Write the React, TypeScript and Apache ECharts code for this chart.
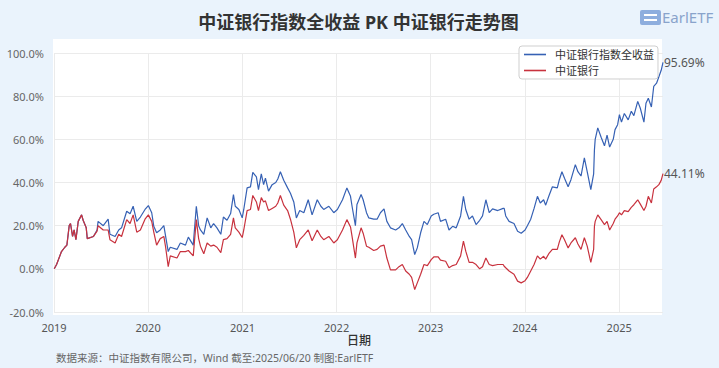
import React, { useEffect, useRef } from 'react';
import * as echarts from 'echarts';

const dates = [
  '2019-01-02','2019-01-11','2019-01-30','2019-02-12','2019-02-20','2019-03-01','2019-03-06','2019-03-14','2019-03-20','2019-03-27',
  '2019-04-05','2019-04-18','2019-04-24','2019-05-06','2019-05-10','2019-06-03','2019-06-17','2019-06-21','2019-07-11','2019-07-30',
  '2019-08-06','2019-08-26','2019-09-09','2019-09-20','2019-10-10','2019-10-23','2019-11-04','2019-11-18','2019-12-02','2019-12-20',
  '2020-01-02','2020-01-15','2020-01-23','2020-02-03','2020-02-17','2020-03-02','2020-03-09','2020-03-19','2020-03-27','2020-04-22',
  '2020-05-05','2020-05-25','2020-06-05','2020-06-24','2020-07-06','2020-07-15','2020-07-22','2020-08-04','2020-08-17','2020-08-31',
  '2020-09-11','2020-09-24','2020-10-09','2020-10-19','2020-11-02','2020-11-16','2020-11-27','2020-12-04','2020-12-18','2020-12-31',
  '2021-01-06','2021-01-19','2021-02-01','2021-02-10','2021-02-24','2021-03-04','2021-03-15','2021-03-24','2021-03-31','2021-04-12',
  '2021-04-26','2021-05-10','2021-05-18','2021-05-28','2021-06-10','2021-06-25','2021-07-06','2021-07-19','2021-07-29','2021-08-11',
  '2021-08-27','2021-09-13','2021-09-28','2021-10-18','2021-11-01','2021-11-12','2021-12-02','2021-12-21','2022-01-04','2022-01-24',
  '2022-02-10','2022-02-24','2022-03-02','2022-03-15','2022-03-21','2022-04-06','2022-04-14','2022-04-27','2022-05-06','2022-05-25',
  '2022-06-07','2022-06-20','2022-07-04','2022-07-15','2022-07-29','2022-08-18','2022-08-31','2022-09-13','2022-09-26','2022-10-10',
  '2022-10-19','2022-10-31','2022-11-10','2022-11-23','2022-12-06','2022-12-19','2023-01-03','2023-01-13','2023-01-30','2023-02-08',
  '2023-02-28','2023-03-13','2023-03-27','2023-04-10','2023-04-27','2023-05-08','2023-05-17','2023-05-30','2023-06-12','2023-06-26',
  '2023-07-10','2023-07-21','2023-08-03','2023-08-16','2023-08-29','2023-09-18','2023-10-09','2023-10-13','2023-10-19','2023-11-01',
  '2023-11-20','2023-12-04','2023-12-18','2024-01-02','2024-01-11','2024-01-24','2024-02-06','2024-02-19','2024-03-01','2024-03-14',
  '2024-03-22','2024-04-03','2024-04-17','2024-05-06','2024-05-14','2024-05-24','2024-06-03','2024-06-17','2024-06-28','2024-07-15',
  '2024-07-25','2024-08-06','2024-08-19','2024-08-30','2024-09-13','2024-09-24','2024-09-27','2024-09-30','2024-10-10','2024-10-23',
  '2024-11-05','2024-11-15','2024-11-25','2024-12-09','2024-12-16','2024-12-26','2025-01-02','2025-01-10','2025-01-21','2025-02-05',
  '2025-02-17','2025-02-27','2025-03-14','2025-03-24','2025-04-07','2025-04-15','2025-04-24','2025-05-06','2025-05-15','2025-05-26',
  '2025-06-04','2025-06-13','2025-06-20',
];

// 中证银行指数全收益 (%)
const totalReturn = [
  0, 2, 8, 10, 11, 20, 21, 15, 18, 13.5,
  22, 25, 22.5, 19, 14, 15, 18, 22, 20, 23,
  16, 15, 18, 19, 26.7, 25.5, 29, 22, 24, 27.5,
  29.3, 26, 19.7, 16.7, 18, 20, 15, 8, 10, 9,
  12, 11, 14.7, 11, 29, 20, 18, 16, 23.6, 19,
  21, 19, 16, 24, 22.5, 25.6, 34.4, 29, 27.5, 23.6,
  27.5, 37.5, 38, 44.7, 42.6, 36.7, 44, 39, 42, 36,
  39, 40, 41.6, 45, 41, 37.5, 35, 31, 23.6, 27,
  26, 32, 25, 32, 29, 27.5, 29, 26, 27.5, 32,
  37.5, 33.6, 29, 20, 29.8, 34.4, 32, 26, 23.6, 23,
  23, 26, 27.8, 22, 19, 18, 19, 21, 18, 15,
  13.5, 6.6, 9.7, 16.7, 22, 20.5, 24.5, 25.3, 26, 22,
  23, 18, 19.7, 19, 24.5, 33.6, 27.5, 23, 24.5, 20.5,
  22.5, 24.5, 32, 26, 27.8, 27, 28, 28, 24.5, 22,
  21, 17.4, 16.5, 18, 20, 23, 28, 33.6, 30.5, 32,
  29.5, 33.6, 38, 37.5, 41.3, 45, 42, 38, 41.3, 48.3,
  45, 43, 51.4, 45, 36.7, 44, 55, 60, 65.3, 61,
  57, 62, 56.4, 60, 64.5, 66.8, 71.4, 68, 72, 69,
  73, 71, 77.6, 74.4, 68, 76.7, 79, 75, 84.5, 86,
  89, 92, 95.69,
];

// 中证银行 (%)
const priceIndex = [
  0, 2, 8, 10, 11, 20, 21, 15, 18, 13.5,
  22, 25, 22.5, 19, 14, 15, 17.5, 20, 18, 18,
  13.5, 12, 16, 15, 22.8, 21, 25, 17, 18, 23,
  25, 22, 17, 11, 14, 15, 10, 1, 6, 5,
  8, 8, 8.5, 6, 22.8, 14, 10.5, 7, 12, 10.5,
  11, 10, 7.5, 13.5, 14, 16, 23.6, 19, 17, 14.5,
  18, 27, 27.5, 34, 31, 27, 33, 31, 31.5, 27,
  28, 29, 30.5, 34, 29.5, 27, 23, 17, 9.7, 13.5,
  15.5, 18, 13, 18, 15, 13.5, 15, 12, 13.5, 18,
  22.8, 19.4, 15, 5, 12, 19, 16.5, 10.5, 10, 8.5,
  9, 10.5, 11, 5, -0.5, -0.5, 1, 2, -1, -2.5,
  -4, -9.6, -6.5, -2.5, 2, 1.5, 4.3, 5.5, 5.5, 4,
  3.5, 0.5, 1.5, 2, 6, 12.8, 8.2, 3, 3, 2,
  0, 1, 5, 2, 1.5, 2, 2, 1.2, 0.5, -1,
  -2.5, -5.7, -6.5, -5.5, -4, -1, 2, 6, 4.5, 5.8,
  4.5, 7, 9, 9, 12.5, 15.8, 13.5, 9.7, 12, 14.4,
  11.5, 9, 14.4, 10.5, 3, 9, 19.7, 22, 25, 22.8,
  20.5, 22, 18, 21, 23, 24.5, 26, 25, 27, 26.5,
  28.5, 29.7, 32, 30, 27, 29, 33.6, 30.5, 37, 38,
  39, 41, 44.11,
];

const xStart = '2019-01-01';
const xEnd = '2025-06-20';
const yearTicks = ['2019-01-01', '2020-01-01', '2021-01-01', '2022-01-01', '2023-01-01', '2024-01-01', '2025-01-01'];
const seriesNames = ['中证银行指数全收益', '中证银行'];
const titleText = '中证银行指数全收益 PK 中证银行走势图';
const xAxisName = '日期';
const footerText = '数据来源：中证指数有限公司，Wind 截至:2025/06/20 制图:EarlETF';
const logoText = 'EarlETF';

export default function App() {
  const ref = useRef<HTMLDivElement>(null);

  useEffect(() => {
    if (!ref.current) return;
    const chart = echarts.init(ref.current, null, { renderer: 'svg' });
    const font = "'Noto Sans', 'Noto Sans CJK SC', sans-serif";
    const blue = '#3661b4';
    const red = '#c8323e';
    const ts = (d: string) => +echarts.number.parseDate(d);
    const tickValues = yearTicks.map(ts);

    const endLabel = {
      show: true,
      formatter: (p: any) => Number(p.value[1]).toFixed(2) + '%',
      color: '#555',
      fontSize: 12,
      distance: 1,
      fontFamily: font,
    };

    chart.setOption({
      animation: false,
      backgroundColor: '#eaf3fc',
      textStyle: { fontFamily: font },
      grid: { left: 54, right: 56, top: 53, bottom: 56 },
      xAxis: {
        type: 'value',
        min: ts(xStart),
        max: ts(xEnd),
        axisLine: { show: false },
        axisTick: { show: false, customValues: tickValues },
        axisLabel: {
          customValues: tickValues,
          formatter: (v: number) => String(new Date(v).getFullYear()),
          color: '#555',
          fontSize: 11,
          margin: 10,
          fontFamily: font,
        },
        splitLine: { show: true, lineStyle: { color: '#ebebeb', width: 1 } },
      },
      yAxis: {
        type: 'value',
        min: -20,
        max: 100,
        interval: 20,
        axisLine: { show: false },
        axisTick: { show: false },
        axisLabel: {
          formatter: (v: number) => v.toFixed(1) + '%',
          color: '#666',
          fontSize: 11,
          margin: 10,
          fontFamily: font,
        },
        splitLine: { show: true, lineStyle: { color: '#ebebeb', width: 1 } },
      },
      legend: {
        data: seriesNames,
        orient: 'vertical',
        left: 519,
        top: 46,
        padding: [3, 4, 3, 5],
        itemGap: 5,
        itemWidth: 22,
        itemHeight: 1.6,
        icon: 'rect',
        backgroundColor: '#ffffff',
        borderColor: '#cfcfcf',
        borderWidth: 1,
        borderRadius: 3,
        textStyle: { fontSize: 11, color: '#333', fontFamily: font, padding: [0, 0, 0, 4] },
      },
      series: [
        {
          name: seriesNames[0],
          type: 'line',
          data: dates.map((d, i) => [ts(d), totalReturn[i]]),
          showSymbol: false,
          symbol: 'none',
          lineStyle: { width: 1.2, color: blue },
          itemStyle: { color: blue },
          endLabel,
        },
        {
          name: seriesNames[1],
          type: 'line',
          data: dates.map((d, i) => [ts(d), priceIndex[i]]),
          showSymbol: false,
          symbol: 'none',
          lineStyle: { width: 1.2, color: red },
          itemStyle: { color: red },
          endLabel,
        },
      ],
      graphic: {
        elements: [
          {
            type: 'rect',
            z: -10,
            silent: true,
            shape: { x: 53, y: 39, width: 609, height: 276 },
            style: { fill: '#ffffff' },
          },
          {
            type: 'text',
            x: 358.5,
            y: 22,
            style: {
              text: titleText,
              fill: '#333',
              font: `bold 18px ${font}`,
              textAlign: 'center',
              textVerticalAlign: 'middle',
            },
          },
          {
            type: 'text',
            x: 359,
            y: 340,
            style: {
              text: xAxisName,
              fill: '#333',
              font: `500 12px ${font}`,
              textAlign: 'center',
              textVerticalAlign: 'middle',
            },
          },
          {
            type: 'text',
            x: 56,
            y: 357.5,
            style: {
              text: footerText,
              fill: '#666',
              font: `10.5px ${font}`,
              textAlign: 'left',
              textVerticalAlign: 'middle',
            },
          },
          {
            type: 'rect',
            shape: { x: 640, y: 10, width: 21, height: 15, r: 2 },
            style: { fill: '#8eaede' },
          },
          {
            type: 'rect',
            shape: { x: 644, y: 14, width: 13, height: 2 },
            style: { fill: '#ffffff' },
          },
          {
            type: 'rect',
            shape: { x: 644, y: 19, width: 13, height: 2 },
            style: { fill: '#ffffff' },
          },
          {
            type: 'text',
            x: 662,
            y: 17,
            style: {
              text: logoText,
              fill: '#89a3cb',
              font: `15px ${font}`,
              textAlign: 'left',
              textVerticalAlign: 'middle',
            },
          },
        ],
      },
    });

    return () => chart.dispose();
  }, []);

  return (
    <div
      ref={ref}
      style={{ position: 'fixed', left: 0, top: 0, width: 719, height: 368 }}
    />
  );
}
